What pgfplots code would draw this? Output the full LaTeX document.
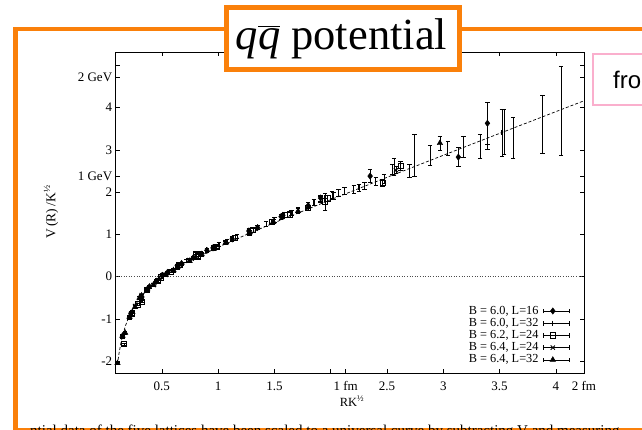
\documentclass[border=0pt]{standalone}
\usepackage{fontspec}
\setmainfont{Liberation Serif}
\newfontfamily\arial{Liberation Sans}
\usepackage{pgfplots}
\pgfplotsset{compat=1.18}
\definecolor{frameorange}{RGB}{250,128,10}
\definecolor{boxpink}{RGB}{250,175,205}
\begin{document}
\begin{tikzpicture}[x=1pt,y=1pt]
\useasboundingbox (0,-429) rectangle (642,0);
\clip (0,-429) rectangle (642,0);
% slide frame
\draw[frameorange, line width=4.5pt] (15.3,-29.2) rectangle (700,-430);
\begin{axis}[
  at={(115.7pt,-373.3pt)}, anchor=south west,
  scale only axis, width=468.3pt, height=321pt,
  xmin=0.09, xmax=4.25, ymin=-2.29, ymax=5.31,
  axis line style={line width=0.8pt, black},
  tick align=inside, major tick length=4pt,
  tick style={black, line width=0.6pt},
  xtick={0.5,1,1.5,2,2.133,2.5,3,3.5,4,4.25},
  xticklabels={0.5,1,1.5,,1 fm,2.5,3,3.5,4,2 fm},
  ytick={-2,-1,0,1,2,2.37,3,4,4.72,5},
  yticklabels={-2,-1,0,1,2,1 GeV,3,4,2 GeV,},
  tick label style={font=\fontsize{13}{14}\selectfont},
  xticklabel style={yshift=-5pt},
  legend plot pos=right,
  legend cell align=right,
  legend style={draw=none, fill=none, inner sep=0pt,
    at={(axis description cs:0.9686,0.024)}, anchor=south east,
    font=\fontsize{12.3}{12}\selectfont,
    nodes={inner sep=0pt, text height=8.6pt, text depth=2.6pt},
    row sep=1pt, column sep=5pt},
  legend image code/.code={%
    \draw[black, line width=0.6pt, solid] (0pt,0pt) -- (25pt,0pt) (0pt,-2.3pt) -- (0pt,2.3pt) (25pt,-2.3pt) -- (25pt,2.3pt);
    \draw[#1] plot coordinates {(9pt,0pt)};
  },
  error bars/error bar style={line width=0.6pt, black, solid},
  error bars/error mark options={rotate=90, line width=0.6pt, black, mark size=2.2pt, solid},
]
% zero line
\addplot[black!70, dotted, line width=0.6pt, forget plot] coordinates {(0.09,0) (4.25,0)};
% fit curve
\addplot[black, line width=0.7pt, dash pattern=on 3pt off 2pt, forget plot] coordinates {
(0.105,-2.089) (0.11,-1.988) (0.12,-1.811) (0.135,-1.593) (0.15,-1.415) (0.175,-1.179)
(0.2,-0.997) (0.25,-0.726) (0.3,-0.529) (0.35,-0.374) (0.4,-0.244) (0.5,-0.033)
(0.6,0.142) (0.7,0.296) (0.8,0.437) (1.0,0.695) (1.25,0.993) (1.5,1.276)
(2.0,1.82) (2.5,2.35) (3.0,2.872) (3.5,3.39) (4.0,3.905) (4.25,4.162)};
% B=6.0 L=16
\addplot[black, only marks, mark=diamond*, mark size=3.2pt,
  error bars/.cd, y dir=both, y explicit] coordinates {
(0.225,-0.87) +- (0,0.03) (0.318,-0.52) +- (0,0.03) (0.390,-0.24) +- (0,0.03)
(0.450,-0.11) +- (0,0.03) (0.503,0.03) +- (0,0.03) (0.551,0.10) +- (0,0.03)
(0.636,0.26) +- (0,0.04) (0.675,0.31) +- (0,0.04) (0.780,0.45) +- (0,0.04)
(0.900,0.62) +- (0,0.04) (0.954,0.68) +- (0,0.04) (1.125,0.89) +- (0,0.05)
(1.273,1.08) +- (0,0.05) (1.350,1.16) +- (0,0.05) (1.559,1.42) +- (0,0.06)
(1.575,1.45) +- (0,0.06) (1.800,1.68) +- (0,0.07) (1.910,1.86) +- (0,0.07)
(2.350,2.38) +- (0,0.15) (3.392,3.63) +- (0,0.50) (3.134,2.83) +- (0,0.22)};
\addlegendentry{B = 6.0, L=16}
% B=6.0 L=32
\addplot[black, only marks, mark=|, mark size=2.5pt, mark options={line width=0.8pt},
  error bars/.cd, y dir=both, y explicit] coordinates {
(0.225,-0.86) +- (0,0.03) (0.318,-0.50) +- (0,0.03) (0.450,-0.10) +- (0,0.03)
(0.503,0.05) +- (0,0.03) (0.636,0.27) +- (0,0.03) (0.675,0.32) +- (0,0.03)
(0.720,0.38) +- (0,0.04) (0.805,0.48) +- (0,0.04) (0.850,0.55) +- (0,0.04)
(0.900,0.63) +- (0,0.04) (0.954,0.70) +- (0,0.04) (1.006,0.76) +- (0,0.04)
(1.080,0.84) +- (0,0.05) (1.125,0.90) +- (0,0.05) (1.170,0.95) +- (0,0.05)
(1.273,1.09) +- (0,0.05) (1.350,1.17) +- (0,0.05) (1.425,1.25) +- (0,0.05)
(1.500,1.34) +- (0,0.06) (1.575,1.44) +- (0,0.06) (1.591,1.47) +- (0,0.06)
(1.650,1.52) +- (0,0.06) (1.710,1.58) +- (0,0.06) (1.800,1.70) +- (0,0.07)
(1.850,1.75) +- (0,0.07) (1.909,1.84) +- (0,0.07) (2.012,1.93) +- (0,0.08)
(2.025,1.92) +- (0,0.08) (2.070,1.98) +- (0,0.08) (2.121,2.03) +- (0,0.08)
(2.205,2.06) +- (0,0.09) (2.250,2.10) +- (0,0.09) (2.300,2.15) +- (0,0.09)
(2.400,2.26) +- (0,0.10) (2.475,2.32) +- (0,0.10) (2.546,2.55) +- (0,0.12)
(2.563,2.59) +- (0,0.20) (2.700,2.50) +- (0,0.15) (2.743,2.88) +- (0,0.50)
(2.883,2.88) +- (0,0.24) (3.04,3.04) +- (0,0.16) (3.18,3.08) +- (0,0.25)
(3.327,3.08) +- (0,0.28) (3.392,3.32) +- (0,0.30) (3.52,3.40) +- (0,0.55)
(3.54,3.42) +- (0,0.53) (3.62,3.28) +- (0,0.48) (3.88,3.61) +- (0,0.68)
(4.046,3.93) +- (0,1.05)};
\addlegendentry{B = 6.0, L=32}
% B=6.2 L=24
\addplot[black, only marks, mark=square, mark size=2.6pt, mark options={line width=0.8pt},
  error bars/.cd, y dir=both, y explicit] coordinates {
(0.164,-1.60) +- (0,0.03) (0.232,-0.88) +- (0,0.03) (0.284,-0.66) +- (0,0.03)
(0.322,-0.59) +- (0,0.03) (0.367,-0.32) +- (0,0.03) (0.464,-0.11) +- (0,0.03)
(0.492,-0.02) +- (0,0.03) (0.580,0.12) +- (0,0.03) (0.656,0.27) +- (0,0.04)
(0.800,0.53) +- (0,0.04) (0.820,0.48) +- (0,0.04) (0.984,0.71) +- (0,0.04)
(1.148,0.92) +- (0,0.05) (1.310,1.10) +- (0,0.05) (1.476,1.30) +- (0,0.05)
(1.640,1.47) +- (0,0.06) (1.800,1.63) +- (0,0.06) (1.950,1.78) +- (0,0.20)
(1.970,1.85) +- (0,0.07) (2.460,2.22) +- (0,0.08) (2.620,2.62) +- (0,0.10)};
\addlegendentry{B = 6.2, L=24}
% B=6.4 L=24
\addplot[black, only marks, mark=x, mark size=3pt, mark options={line width=0.9pt},
  error bars/.cd, y dir=both, y explicit] coordinates {
(0.150,-1.42) +- (0,0.03) (0.213,-0.97) +- (0,0.03) (0.262,-0.70) +- (0,0.03)
(0.320,-0.44) +- (0,0.03) (0.426,-0.20) +- (0,0.03) (0.533,0.04) +- (0,0.03)
(0.640,0.22) +- (0,0.04) (0.746,0.39) +- (0,0.04) (0.853,0.52) +- (0,0.04)
(0.960,0.67) +- (0,0.04) (1.066,0.81) +- (0,0.05) (1.280,1.04) +- (0,0.06)
(2.580,2.52) +- (0,0.08)};
\addlegendentry{B = 6.4, L=24}
% B=6.4 L=32
\addplot[black, only marks, mark=triangle*, mark size=3.2pt,
  error bars/.cd, y dir=both, y explicit] coordinates {
(0.106,-2.05) +- (0,0.03) (0.150,-1.40) +- (0,0.03) (0.174,-1.33) +- (0,0.03)
(0.213,-0.95) +- (0,0.03) (0.238,-0.84) +- (0,0.03) (0.262,-0.72) +- (0,0.03)
(0.302,-0.50) +- (0,0.03) (0.320,-0.45) +- (0,0.03) (0.370,-0.30) +- (0,0.03)
(0.426,-0.19) +- (0,0.03) (0.476,-0.06) +- (0,0.03) (0.533,0.05) +- (0,0.03)
(0.603,0.15) +- (0,0.04) (0.640,0.23) +- (0,0.04) (0.746,0.37) +- (0,0.04)
(0.853,0.53) +- (0,0.04) (0.960,0.66) +- (0,0.04) (1.066,0.80) +- (0,0.04)
(1.280,1.05) +- (0,0.05) (1.490,1.30) +- (0,0.05) (1.710,1.55) +- (0,0.06)
(2.970,3.16) +- (0,0.17)};
\addlegendentry{B = 6.4, L=32}
\end{axis}
% axis labels
\node[rotate=90, font=\fontsize{13.5}{14}\selectfont] at (51,-212) {V\,(R)\,/K\textsuperscript{½}};
\node[anchor=base, font=\fontsize{12.5}{13}\selectfont] at (352,-406) {RK\textsuperscript{½}};
% title box
\draw[frameorange, line width=5pt, fill=white] (226.5,-7.5) rectangle (459.2,-69.2);
\node[anchor=base, inner sep=0pt, font=\fontsize{44.5}{50}\selectfont] at (341.5,-49) {$\textit{q}\overline{\textit{q}}$\ potential};
% pink box
\draw[boxpink, line width=2pt, fill=white] (593,-54) rectangle (720,-105);
\node[anchor=base west, inner sep=0pt, font=\arial\fontsize{24}{28}\selectfont] at (613,-88) {from Bali};
% cut-off text at the bottom
\node[anchor=north west, inner sep=0pt, font=\fontsize{15}{18}\selectfont] at (30,-424.5) {ntial data of the five lattices have been scaled to a universal curve by subtracting V and measuring};
\end{tikzpicture}
\end{document}
